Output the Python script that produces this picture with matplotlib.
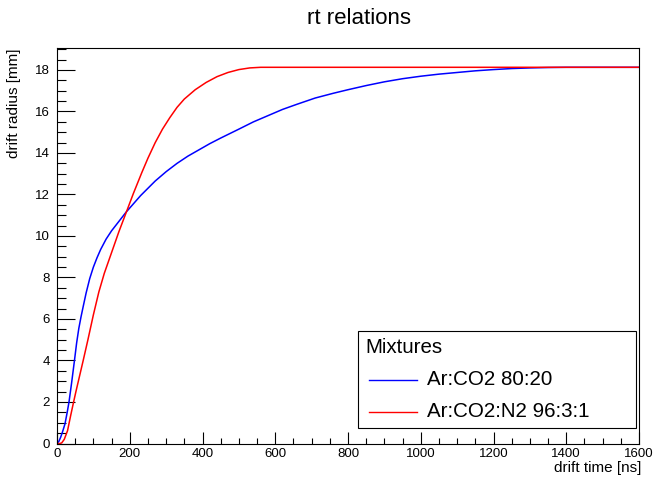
import matplotlib

matplotlib.use("Agg")
import matplotlib.pyplot as plt
from matplotlib.patches import Rectangle
from matplotlib.ticker import MultipleLocator

plt.rcParams["font.family"] = ["Liberation Sans", "DejaVu Sans"]

# drift time [ns] -> drift radius [mm]
t_arco2 = [0, 5, 10, 15, 22, 28, 33, 40, 48, 54, 60, 66, 72, 80, 90, 100,
           110, 120, 135, 150, 170, 190, 210, 230, 250, 270, 300, 330, 360,
           390, 420, 450, 500, 540, 580, 620, 660, 710, 760, 800, 850, 900,
           950, 1000, 1050, 1100, 1150, 1200, 1250, 1300, 1350, 1400, 1600]
r_arco2 = [0, 0.1, 0.3, 0.55, 0.95, 1.5, 2.0, 2.9, 4.0, 4.85, 5.55, 6.1,
           6.6, 7.25, 7.95, 8.5, 8.95, 9.35, 9.85, 10.25, 10.7, 11.15, 11.55,
           11.95, 12.3, 12.65, 13.1, 13.5, 13.85, 14.15, 14.45, 14.72, 15.15,
           15.5, 15.8, 16.1, 16.35, 16.65, 16.88, 17.05, 17.25, 17.43, 17.58,
           17.7, 17.8, 17.88, 17.96, 18.02, 18.07, 18.1, 18.12, 18.13, 18.13]

t_arco2n2 = [0, 8, 13, 20, 29, 37, 45, 52, 60, 72, 85, 100, 115, 130, 150,
             170, 191, 210, 233, 250, 270, 290, 310, 330, 350, 380, 410, 440,
             470, 500, 530, 560, 1600]
r_arco2n2 = [0, 0, 0.03, 0.2, 0.62, 1.3, 1.95, 2.5, 3.1, 4.0, 5.0, 6.2, 7.3,
             8.2, 9.2, 10.2, 11.17, 12.05, 13.05, 13.75, 14.5, 15.15, 15.7,
             16.2, 16.6, 17.05, 17.4, 17.68, 17.88, 18.02, 18.1, 18.13, 18.13]

labels = ["Ar:CO2 80:20", "Ar:CO2:N2 96:3:1"]
colors = ["#0000ff", "#ff0000"]

fig = plt.figure(figsize=(6.58, 4.79), dpi=100)
ax = fig.add_axes([57 / 658, 1 - 443.5 / 479, 582 / 658, 395.5 / 479])

ax.plot(t_arco2, r_arco2, color=colors[0], lw=1.1)
ax.plot(t_arco2n2, r_arco2n2, color=colors[1], lw=1.1)

ax.set_xlim(0, 1600)
ax.set_ylim(0, 19.06)
ax.xaxis.set_major_locator(MultipleLocator(200))
ax.xaxis.set_minor_locator(MultipleLocator(50))
ax.yaxis.set_major_locator(MultipleLocator(2))
ax.yaxis.set_minor_locator(MultipleLocator(0.5))
ax.tick_params(axis="both", which="both", direction="in", top=False, right=False,
               width=0.8, labelsize=9.5)
ax.tick_params(axis="x", which="major", length=8.6, pad=3)
ax.tick_params(axis="x", which="minor", length=4.3)
ax.tick_params(axis="y", which="major", length=12.6, pad=5)
ax.tick_params(axis="y", which="minor", length=6.3)
for sp in ax.spines.values():
    sp.set_linewidth(0.8)

ax.set_xlabel("drift time [ns]", fontsize=11, loc="right")
ax.xaxis.set_label_coords(1.0034, -0.044)
ax.set_ylabel("drift radius [mm]", fontsize=11, loc="top")
ax.yaxis.set_label_coords(-0.062, 1.0)

fig.text(359 / 658, 1 - 18 / 479, "rt relations", ha="center", va="center",
         fontsize=16)

# legend box
ax.add_patch(Rectangle((0.517, 0.038), 0.478, 0.247, transform=ax.transAxes,
                       facecolor="white", edgecolor="black", lw=0.8, zorder=5))
ax.text(0.529, 0.243, "Mixtures", transform=ax.transAxes, fontsize=14.8,
        va="center", ha="left", zorder=6)
for lab, col, yy in zip(labels, colors, [0.161, 0.080]):
    ax.plot([0.536, 0.619], [yy, yy], color=col, lw=1.0,
            transform=ax.transAxes, zorder=6)
    ax.text(0.636, yy, lab, transform=ax.transAxes, fontsize=14.8,
            va="center", ha="left", zorder=6)

fig.savefig("out.png", dpi=100)
